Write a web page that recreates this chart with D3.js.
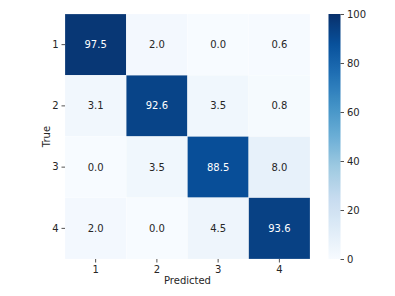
<!DOCTYPE html>
<html><head><meta charset="utf-8">
<script src="https://cdn.jsdelivr.net/npm/d3@7"></script>
<style>body{margin:0;background:#fff}svg{display:block}text{font-family:"DejaVu Sans",sans-serif}</style>
</head><body>
<svg id="c" width="395" height="296"></svg>
<script>
const trueLabels = ["1","2","3","4"];
const predLabels = ["1","2","3","4"];
const values = [
  [97.5, 2.0, 0.0, 0.6],
  [3.1, 92.6, 3.5, 0.8],
  [0.0, 3.5, 88.5, 8.0],
  [2.0, 0.0, 4.5, 93.6]
];
const cbarTicks = [0,20,40,60,80,100];
const bluesStops = ["#f7fbff","#deebf7","#c6dbef","#9ecae1","#6baed6","#4292c6","#2171b5","#08519c","#08306b"];

const svg = d3.select("#c");
const L = 65, T = 14, W = 245, H = 245;
const x = d3.scaleBand().domain(predLabels).range([L, L+W]);
const y = d3.scaleBand().domain(trueLabels).range([T, T+H]);
const color = d3.scaleLinear().domain(d3.range(9).map(i => i*100/8)).range(bluesStops).interpolate(d3.interpolateRgb).clamp(true);

const cells = [];
values.forEach((row,i)=>row.forEach((v,j)=>cells.push({t:trueLabels[i], p:predLabels[j], v})));

svg.selectAll("rect.cell").data(cells).join("rect").attr("class","cell")
  .attr("x",d=>x(d.p)).attr("y",d=>y(d.t)).attr("width",x.bandwidth()).attr("height",y.bandwidth())
  .attr("fill",d=>color(d.v)).attr("stroke","#ffffff").attr("stroke-width",0.4).attr("stroke-opacity",0.5);

svg.selectAll("text.val").data(cells).join("text").attr("class","val")
  .attr("x",d=>x(d.p)+x.bandwidth()/2).attr("y",d=>y(d.t)+y.bandwidth()/2)
  .attr("text-anchor","middle").attr("dominant-baseline","central").attr("font-size",10)
  .attr("fill",d=>d.v>50?"#ffffff":"#262626").text(d=>d.v.toFixed(1));

const xAxis = svg.append("g").attr("transform",`translate(0,${T+H})`).call(d3.axisBottom(x).tickSize(3.5).tickPadding(3));
const yAxis = svg.append("g").attr("transform",`translate(${L},0)`).call(d3.axisLeft(y).tickSize(3.5).tickPadding(3));
[xAxis,yAxis].forEach(g=>{g.select(".domain").remove();g.selectAll("text").attr("font-size",10).attr("fill","#262626").attr("font-family","DejaVu Sans");g.selectAll("line").attr("stroke","#262626").attr("stroke-width",0.8);});

svg.append("text").attr("x",L+W/2).attr("y",284).attr("text-anchor","middle").attr("font-size",10).attr("fill","#262626").text("Predicted");
svg.append("text").attr("transform",`translate(50,${T+H/2}) rotate(-90)`).attr("text-anchor","middle").attr("font-size",10).attr("fill","#262626").text("True");

// colorbar
const cbL = 328.5, cbW = 12;
const cy = d3.scaleLinear().domain([0,100]).range([T+H, T]);
const defs = svg.append("defs");
const grad = defs.append("linearGradient").attr("id","g").attr("x1",0).attr("y1",1).attr("x2",0).attr("y2",0);
d3.range(0,101,2).forEach(v=>grad.append("stop").attr("offset",v/100).attr("stop-color",color(v)));
svg.append("rect").attr("x",cbL).attr("y",T).attr("width",cbW).attr("height",H).attr("fill","url(#g)");
const cAxis = svg.append("g").attr("transform",`translate(${cbL+cbW},0)`).call(d3.axisRight(cy).tickValues(cbarTicks).tickSize(3.5).tickPadding(3));
cAxis.select(".domain").remove();
cAxis.selectAll("text").attr("font-size",10).attr("fill","#262626").attr("font-family","DejaVu Sans");
cAxis.selectAll("line").attr("stroke","#262626").attr("stroke-width",0.8);
</script>
</body></html>
